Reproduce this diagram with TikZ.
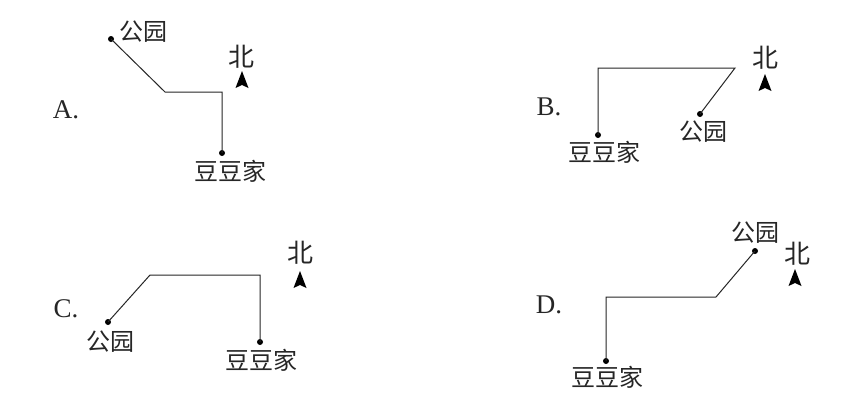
\documentclass[tikz,border=0pt]{standalone}
\usepackage{fontspec}
\newfontfamily\cjk{Noto Sans CJK SC}
\setmainfont{Liberation Serif}
\tikzset{
  x=1pt,y=-1pt,
  route/.style={draw=black!85,line width=1pt,line join=miter},
  spot/.style={circle,fill=black,inner sep=0pt,minimum size=6pt},
  turn/.style={inner sep=0pt,minimum size=0pt},
  place/.style={inner sep=0pt,font=\cjk\fontsize{24}{24}\selectfont,text=black!85},
  compass/.style={inner sep=0pt,font=\cjk\fontsize{26}{26}\selectfont,text=black!85},
  letter/.style={inner sep=0pt,font=\fontsize{27}{27}\selectfont,text=black!85},
  pics/north/.style={code={\fill[black] (0,-9) -- (6.5,8) -- (0,5) -- (-6.5,8) -- cycle;}}
}
\begin{document}
\begin{tikzpicture}
\useasboundingbox (0,0) rectangle (843,402);
\fill[white] (0,0) rectangle (843,402);
% A
\node[spot] (ap) at (111,39) {};
\node[turn] (a1) at (165,92) {};
\node[turn] (a2) at (222,92) {};
\node[spot] (ah) at (222,153) {};
\draw[route] (ap.center) -- (a1.center) -- (a2.center) -- (ah.center);
\node[place] (apl) at (143,32) {公园};
\node[place] (ahl) at (230,171) {豆豆家};
\node[compass] (an) at (241,57) {北};
\pic at (242,80) {north};
\node[letter] (al) at (66,110) {A.};
% B
\node[spot] (bh) at (598,135) {};
\node[turn] (b1) at (598,68) {};
\node[turn] (b2) at (735,68) {};
\node[spot] (bp) at (700,114) {};
\draw[route] (bh.center) -- (b1.center) -- (b2.center) -- (bp.center);
\node[place] (bhl) at (604,152) {豆豆家};
\node[place] (bpl) at (703,132) {公园};
\node[compass] (bn) at (765,58) {北};
\pic at (765,83) {north};
\node[letter] (bl) at (549,107) {B.};
% C
\node[spot] (cp) at (108,322) {};
\node[turn] (c1) at (150,275) {};
\node[turn] (c2) at (260,275) {};
\node[spot] (ch) at (260,342) {};
\draw[route] (cp.center) -- (c1.center) -- (c2.center) -- (ch.center);
\node[place] (cpl) at (110,342) {公园};
\node[place] (chl) at (261,360) {豆豆家};
\node[compass] (cn) at (300,253) {北};
\pic at (300,280) {north};
\node[letter] (cl) at (66,309) {C.};
% D
\node[spot] (dp) at (755,251) {};
\node[turn] (d1) at (716,297) {};
\node[turn] (d2) at (606,297) {};
\node[spot] (dh) at (606,361) {};
\draw[route] (dp.center) -- (d1.center) -- (d2.center) -- (dh.center);
\node[place] (dpl) at (755,233) {公园};
\node[place] (dhl) at (607,377) {豆豆家};
\node[compass] (dn) at (797,254) {北};
\pic at (795,278) {north};
\node[letter] (dl) at (549,305) {D.};
\end{tikzpicture}
\end{document}
